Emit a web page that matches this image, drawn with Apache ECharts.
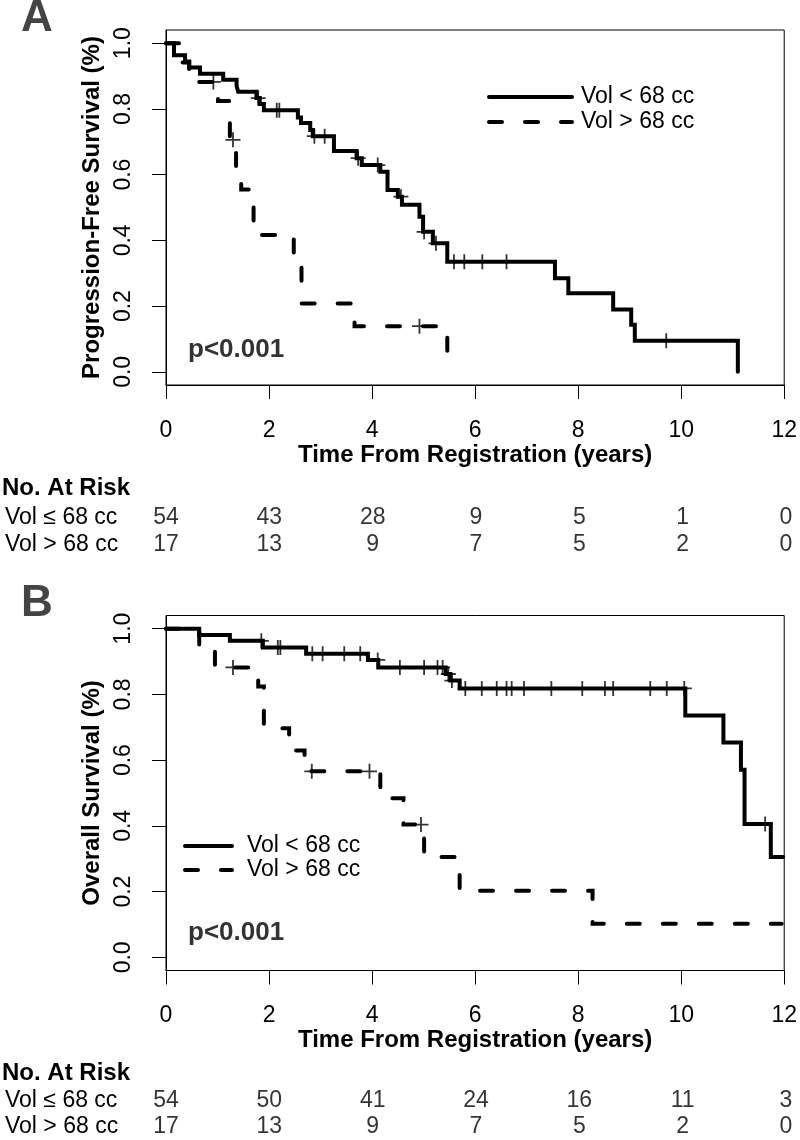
<!DOCTYPE html>
<html><head><meta charset="utf-8">
<script src="https://cdn.jsdelivr.net/npm/echarts@6/dist/echarts.min.js"></script>
<style>html,body{margin:0;padding:0;background:#fff}#c{width:800px;height:1140px}</style>
</head><body><div id="c"></div><script>
// ---------- data ----------
const xTicks = [0, 2, 4, 6, 8, 10, 12];
const yTicks = [0, 0.2, 0.4, 0.6, 0.8, 1.0];
const rowLabels = ['Vol \u2264 68 cc', 'Vol > 68 cc'];
const legendLabels = ['Vol < 68 cc', 'Vol > 68 cc'];

// Panel A: progression-free survival
const pfsSmallT = [0, 0.155, 0.37, 0.45, 0.66, 1.11, 1.37, 1.40, 1.755, 1.82, 1.90, 2.56, 2.62, 2.80, 2.85, 3.26, 3.70, 3.80, 4.16, 4.30, 4.50, 4.58, 4.92, 4.99, 5.18, 5.46, 7.55, 7.81, 8.68, 9.03, 9.10, 11.10];
const pfsSmallS = [1, 0.963, 0.944, 0.926, 0.907, 0.889, 0.870, 0.852, 0.833, 0.815, 0.796, 0.774, 0.757, 0.736, 0.717, 0.672, 0.650, 0.629, 0.609, 0.553, 0.533, 0.508, 0.472, 0.426, 0.391, 0.335, 0.285, 0.239, 0.190, 0.143, 0.095, 0.0];
const pfsSmallCens = [1.79, 2.15, 2.20, 2.88, 3.08, 3.73, 4.11, 4.56, 5.01, 5.24, 5.59, 5.79, 6.14, 6.61, 9.71];
const pfsLargeT = [0, 0.30, 0.45, 1.01, 1.24, 1.36, 1.46, 1.70, 2.48, 2.63, 3.66, 5.46];
const pfsLargeS = [1, 0.941, 0.882, 0.824, 0.706, 0.625, 0.555, 0.416, 0.347, 0.208, 0.139, 0.0];
const pfsLargeCens = [0.92, 1.30, 4.92];
const pfsRiskSmall = [54, 43, 28, 9, 5, 1, 0];
const pfsRiskLarge = [17, 13, 9, 7, 5, 2, 0];

// Panel B: overall survival
const osSmallT = [0, 0.645, 1.24, 1.88, 2.72, 3.92, 4.12, 5.43, 5.52, 5.70, 10.08, 10.82, 11.16, 11.23, 11.74, 11.98];
const osSmallS = [1, 0.981, 0.963, 0.943, 0.924, 0.905, 0.882, 0.862, 0.842, 0.818, 0.736, 0.654, 0.571, 0.406, 0.305, 0.305];
const osSmallCens = [1.85, 2.17, 2.22, 2.84, 3.04, 3.46, 3.77, 4.11, 4.54, 5.01, 5.27, 5.37, 5.48, 5.55, 5.81, 6.13, 6.42, 6.61, 6.71, 6.95, 7.48, 8.08, 8.52, 8.68, 9.40, 9.72, 10.06, 11.63];
const osLargeT = [0, 0.645, 0.95, 1.79, 1.90, 2.39, 2.69, 4.16, 4.61, 5.01, 5.70, 8.28, 11.95];
const osLargeS = [1, 0.941, 0.882, 0.824, 0.697, 0.629, 0.566, 0.484, 0.404, 0.305, 0.203, 0.102, 0.102];
const osLargeCens = [1.30, 2.83, 3.95, 4.95];
const osRiskSmall = [54, 50, 41, 24, 16, 11, 3];
const osRiskLarge = [17, 13, 9, 7, 5, 2, 0];

// ---------- helpers ----------
const FONT = '"Liberation Sans", Arial, Helvetica, sans-serif';
const PLUS = 'path://M6.6,0H8.4V6.6H15V8.4H8.4V15H6.6V8.4H0V6.6H6.6Z';
const DASH = [13, 23];

function stepVal(ts, ss, t) {
  let v = ss[0];
  for (let i = 0; i < ts.length; i++) { if (ts[i] <= t) v = ss[i]; }
  return v;
}
function curve(ts, ss, gi, dashed) {
  return {
    type: 'line', xAxisIndex: gi, yAxisIndex: gi, step: 'end', showSymbol: false,
    data: ts.map((t, i) => [t, ss[i]]), silent: true, z: 3,
    lineStyle: { color: '#000', width: 4, type: dashed ? DASH : 'solid', cap: 'round', join: 'miter' }
  };
}
function censor(ts, ss, cs, gi) {
  return {
    type: 'scatter', xAxisIndex: gi, yAxisIndex: gi, symbol: PLUS, symbolSize: 15, symbolKeepAspect: true,
    data: cs.map(c => [c, stepVal(ts, ss, c)]), itemStyle: { color: '#000' }, silent: true, z: 4
  };
}
function riskSeries(small, large, gi) {
  const d = [];
  small.forEach((n, i) => d.push([xTicks[i], 0, n]));
  large.forEach((n, i) => d.push([xTicks[i], 1, n]));
  return {
    type: 'scatter', xAxisIndex: gi, yAxisIndex: gi, symbolSize: 1, itemStyle: { color: 'rgba(0,0,0,0)' },
    data: d, silent: true,
    label: { show: true, position: 'inside', formatter: p => String(p.value[2]), color: '#000', fontSize: 23, fontFamily: FONT }
  };
}
function plotX(gi) {
  return {
    gridIndex: gi, type: 'value', min: 0, max: 12, interval: 2,
    axisLine: { show: true, onZero: false, lineStyle: { color: '#000', width: 1 } },
    axisTick: { show: true, length: 14, lineStyle: { color: '#000', width: 1 } },
    axisLabel: { color: '#000', fontSize: 23, fontFamily: FONT, margin: 34 },
    splitLine: { show: false },
    name: 'Time From Registration (years)', nameLocation: 'middle', nameGap: 57,
    nameTextStyle: { color: '#000', fontSize: 24, fontWeight: 'bold', fontFamily: FONT }
  };
}
function plotY(gi, name) {
  return {
    gridIndex: gi, type: 'value', min: -0.04, max: 1.04,
    axisLine: { show: true, lineStyle: { color: '#000', width: 1 } },
    axisTick: { show: true, length: 14, customValues: yTicks, lineStyle: { color: '#000', width: 1 } },
    axisLabel: { customValues: yTicks, formatter: v => v.toFixed(1), rotate: 90, color: '#000', fontSize: 23, fontFamily: FONT, margin: 31 },
    splitLine: { show: false },
    name: name, nameLocation: 'middle', nameGap: 50, nameRotate: 90,
    nameTextStyle: { color: '#000', fontSize: 24, fontWeight: 'bold', fontFamily: FONT }
  };
}
function tableX(gi) {
  return { gridIndex: gi, type: 'value', min: 0, max: 12, show: false };
}
function tableY(gi) {
  return {
    gridIndex: gi, type: 'category', data: rowLabels, inverse: true,
    axisLine: { show: false }, axisTick: { show: false }, splitLine: { show: false },
    axisLabel: { interval: 0, align: 'left', margin: 161, color: '#000', fontSize: 23, fontFamily: FONT }
  };
}
function legendGraphics(x1, x2, y1, y2, tx) {
  return [
    { type: 'line', shape: { x1: x1, y1: y1, x2: x2, y2: y1 }, style: { stroke: '#000', lineWidth: 4, lineCap: 'round' } },
    { type: 'line', shape: { x1: x1, y1: y2, x2: x2, y2: y2 }, style: { stroke: '#000', lineWidth: 4, lineCap: 'round', lineDash: DASH } },
    { type: 'text', x: tx, y: y1, style: { text: legendLabels[0], fill: '#000', font: '23px ' + FONT, textVerticalAlign: 'middle' } },
    { type: 'text', x: tx, y: y2, style: { text: legendLabels[1], fill: '#000', font: '23px ' + FONT, textVerticalAlign: 'middle' } }
  ];
}
function txt(x, y, s, font, fill) {
  return { type: 'text', x: x, y: y, style: { text: s, fill: fill || '#000', font: font, textVerticalAlign: 'middle' } };
}

const chart = echarts.init(document.getElementById('c'), null, { renderer: 'canvas' });
chart.setOption({
  animation: false,
  backgroundColor: '#fff',
  grid: [
    { left: 166, top: 30, width: 620, height: 355, show: true, borderColor: '#000', borderWidth: 1, backgroundColor: 'transparent' },
    { left: 166, top: 504, width: 620, height: 54 },
    { left: 166, top: 615.5, width: 620, height: 355, show: true, borderColor: '#000', borderWidth: 1, backgroundColor: 'transparent' },
    { left: 166, top: 1088, width: 620, height: 54 }
  ],
  xAxis: [plotX(0), tableX(1), plotX(2), tableX(3)],
  yAxis: [plotY(0, 'Progression-Free Survival (%)'), tableY(1), plotY(2, 'Overall Survival (%)'), tableY(3)],
  series: [
    curve(pfsSmallT, pfsSmallS, 0, false),
    curve(pfsLargeT, pfsLargeS, 0, true),
    censor(pfsSmallT, pfsSmallS, pfsSmallCens, 0),
    censor(pfsLargeT, pfsLargeS, pfsLargeCens, 0),
    riskSeries(pfsRiskSmall, pfsRiskLarge, 1),
    curve(osSmallT, osSmallS, 2, false),
    curve(osLargeT, osLargeS, 2, true),
    censor(osSmallT, osSmallS, osSmallCens, 2),
    censor(osLargeT, osLargeS, osLargeCens, 2),
    riskSeries(osRiskSmall, osRiskLarge, 3)
  ],
  graphic: [].concat(
    legendGraphics(489, 572, 97, 122, 581),
    legendGraphics(185, 232, 846, 870, 247),
    [
      txt(188, 350, 'p<0.001', 'bold 26px ' + FONT, '#333'),
      txt(188, 933, 'p<0.001', 'bold 26px ' + FONT, '#333'),
      txt(2, 488, 'No. At Risk', 'bold 24px ' + FONT),
      txt(2, 1073, 'No. At Risk', 'bold 24px ' + FONT),
      txt(21, 19, 'A', 'bold 44px ' + FONT, '#444'),
      txt(21, 604, 'B', 'bold 44px ' + FONT, '#444')
    ]
  )
});
</script></body></html>
